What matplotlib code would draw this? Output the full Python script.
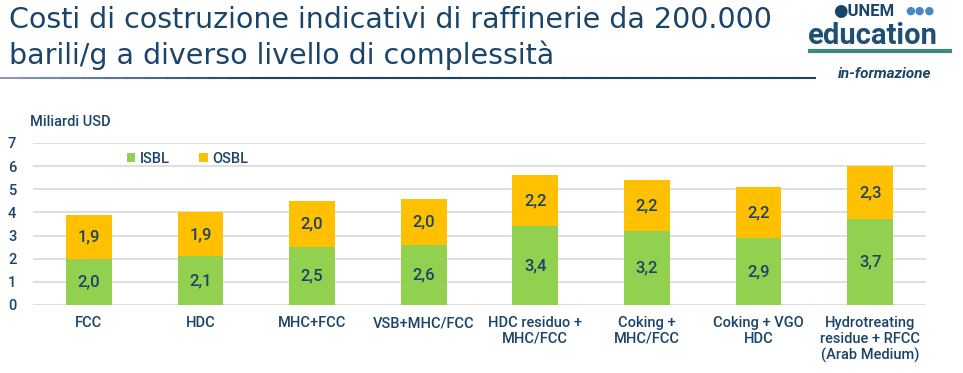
import matplotlib
matplotlib.use("Agg")
import matplotlib.pyplot as plt
from matplotlib.lines import Line2D
import numpy as np

plt.rcParams['font.family'] = ['Roboto', 'DejaVu Sans']

categories = ["FCC", "HDC", "MHC+FCC", "VSB+MHC/FCC", "HDC residuo +\nMHC/FCC",
              "Coking +\nMHC/FCC", "Coking + VGO\nHDC", "Hydrotreating\nresidue + RFCC\n(Arab Medium)"]
isbl = [2.0, 2.1, 2.5, 2.6, 3.4, 3.2, 2.9, 3.7]
osbl = [1.9, 1.9, 2.0, 2.0, 2.2, 2.2, 2.2, 2.3]
yticks = [0, 1, 2, 3, 4, 5, 6, 7]

navy = "#1b4469"
green = "#92D050"
yellow = "#FFC000"

W, H = 963, 373
fig = plt.figure(figsize=(W/100, H/100), dpi=100)
ax = fig.add_axes([33/W, 1-305/H, (926-33)/W, (305-143)/H])

x = np.arange(len(categories))
ax.bar(x, isbl, width=0.41, color=green, label="ISBL", zorder=3)
ax.bar(x, osbl, width=0.41, bottom=isbl, color=yellow, label="OSBL", zorder=3)

for i in range(len(x)):
    ax.text(x[i], isbl[i]/2, f"{isbl[i]:.1f}".replace(".", ","), ha="center", va="center",
            fontsize=12, fontweight="medium", color=navy, zorder=4)
    ax.text(x[i], isbl[i] + osbl[i]/2, f"{osbl[i]:.1f}".replace(".", ","), ha="center", va="center",
            fontsize=12, fontweight="medium", color=navy, zorder=4)

ax.set_xlim(-0.5, len(categories)-0.5)
ax.set_ylim(0, 7)
ax.set_yticks(yticks)
ax.set_yticklabels([str(t) for t in yticks], fontsize=10.5, color=navy, fontweight="medium")
ax.set_xticks(x)
ax.set_xticklabels(categories, fontsize=10.5, color=navy, linespacing=1.15, fontweight="medium")
ax.tick_params(axis="both", length=0)
ax.tick_params(axis="y", pad=12)
ax.tick_params(axis="x", pad=8)
ax.yaxis.grid(True, color="#d9d9d9", linewidth=1.2, zorder=0)
for s in ax.spines.values():
    s.set_visible(False)
ax.set_axisbelow(True)

leg = ax.legend(loc="upper left", bbox_to_anchor=(0.095, 1.0), ncol=2, frameon=False,
                fontsize=10.5, handlelength=0.6, handleheight=0.6, handletextpad=0.3,
                columnspacing=2.0, borderaxespad=0.2)
for t in leg.get_texts():
    t.set_color(navy)
    t.set_fontweight("medium")

fig.text(30/W, 1-122/H, "Miliardi USD", fontsize=10.5, color=navy, va="center", ha="left",
         fontweight="medium")

# title
fig.text(9/W, 1-20/H, "Costi di costruzione indicativi di raffinerie da 200.000",
         fontsize=20.5, color=navy, va="center", ha="left", family=["DejaVu Sans"])
fig.text(9/W, 1-55/H, "barili/g a diverso livello di complessità",
         fontsize=20.5, color=navy, va="center", ha="left", family=["DejaVu Sans"])

# underline gradient
xs = np.linspace(0, 815, 40)
cols_start = np.array([0.55, 0.6, 0.68])
cols_end = np.array([0.106, 0.267, 0.41])
for i in range(len(xs)-1):
    f = min(1.0, i/12)
    c = cols_start*(1-f) + cols_end*f
    fig.add_artist(Line2D([xs[i]/W, xs[i+1]/W], [1-78/H, 1-78/H], color=c, linewidth=1.5,
                          transform=fig.transFigure))

# logos (approximate)
fig.text(833/W, 1-11/H, "●UNEM", fontsize=12, fontweight="bold", color=navy, va="center", ha="left")
fig.text(905/W, 1-11/H, "●●●", fontsize=8, color="#4a86c5", va="center", ha="left")
fig.text(808/W, 1-36/H, "education", fontsize=21, fontweight="bold", color="#1f4f73", va="center", ha="left")
fig.add_artist(Line2D([810/W, 950/W], [1-51/H, 1-51/H], color="#3b8a7a", linewidth=3,
                      transform=fig.transFigure))
fig.text(838/W, 1-74/H, "in-formazione", fontsize=11, fontweight="bold", style="italic",
         color=navy, va="center", ha="left")

fig.savefig("out.png", dpi=100)
